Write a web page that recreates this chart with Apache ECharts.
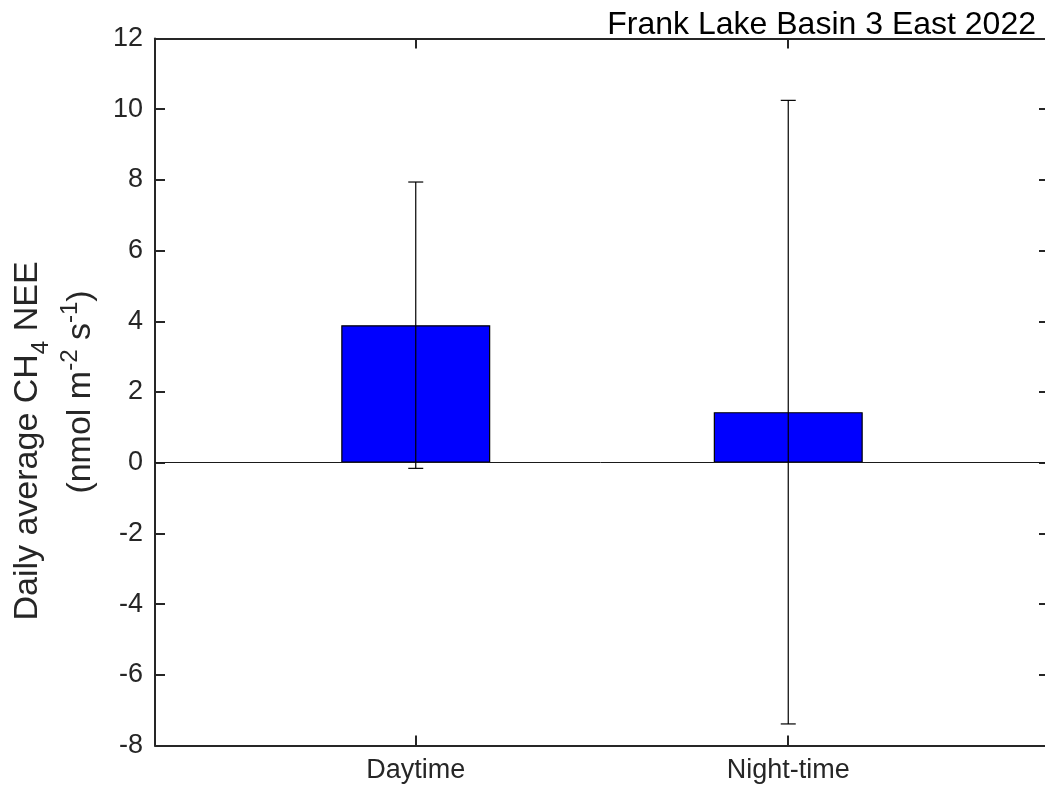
<!DOCTYPE html>
<html>
<head>
<meta charset="utf-8">
<title>Frank Lake Basin 3 East 2022</title>
<script src="https://cdn.jsdelivr.net/npm/echarts@6/dist/echarts.min.js"></script>
<style>
  html, body { margin: 0; padding: 0; background: #ffffff; }
  #chart { width: 1045px; height: 794px; }
</style>
</head>
<body>
<div id="chart"></div>
<script>
// Daily average CH4 NEE by period, with one-standard-deviation error bars
const categories = ['Daytime', 'Night-time'];
const categoryPositions = [1, 2];
const meanFlux = [3.89, 1.43];
const fluxError = [4.05, 8.82];
const yTicks = { min: -8, max: 12, step: 2 };

const FONT = "'Liberation Sans', Arial, Helvetica, sans-serif";
const AXIS_COLOR = '#262626';

const chart = echarts.init(document.getElementById('chart'), null, { renderer: 'canvas' });

const barData = categoryPositions.map((x, i) => [x, meanFlux[i]]);
const errData = categoryPositions.map((x, i) => [x, meanFlux[i] - fluxError[i], meanFlux[i] + fluxError[i]]);

const X_MIN = 0.3, X_MAX = 2.7;
const GRID_LEFT = 155, GRID_WIDTH = 894;

function axisBase(extra) {
  return Object.assign({
    axisLine: { show: true, onZero: false, lineStyle: { color: AXIS_COLOR, width: 2 } },
    splitLine: { show: false }
  }, extra);
}

const option = {
  backgroundColor: '#ffffff',
  animation: false,
  title: {
    text: 'Frank Lake Basin 3 East 2022',
    right: 4,
    top: 4,
    textStyle: { fontFamily: FONT, fontSize: 32, fontWeight: 'normal', color: '#000000' }
  },
  // the axes box runs slightly past the right edge of the canvas
  grid: { left: GRID_LEFT, width: GRID_WIDTH, top: 38.5, bottom: 48.5,
          containLabel: false, outerBoundsMode: 'none' },
  xAxis: [
    axisBase({
      type: 'value', position: 'bottom', min: X_MIN, max: X_MAX,
      axisTick: { show: true, inside: true, length: 10, customValues: categoryPositions,
                  lineStyle: { color: AXIS_COLOR, width: 2 } },
      axisLabel: { show: true, customValues: categoryPositions, margin: 12,
                   fontFamily: FONT, fontSize: 27, color: AXIS_COLOR,
                   formatter: v => categories[categoryPositions.indexOf(Math.round(v))] || '' }
    }),
    axisBase({
      type: 'value', position: 'top', min: X_MIN, max: X_MAX,
      axisTick: { show: true, inside: true, length: 10, customValues: categoryPositions,
                  lineStyle: { color: AXIS_COLOR, width: 2 } },
      axisLabel: { show: false }
    })
  ],
  yAxis: [
    axisBase({
      type: 'value', position: 'left', min: yTicks.min, max: yTicks.max, interval: yTicks.step,
      axisTick: { show: true, inside: true, length: 10, lineStyle: { color: AXIS_COLOR, width: 2 } },
      axisLabel: { show: true, margin: 12, fontFamily: FONT, fontSize: 27, color: AXIS_COLOR }
    }),
    axisBase({
      type: 'value', position: 'right', min: yTicks.min, max: yTicks.max, interval: yTicks.step,
      axisTick: { show: true, inside: true, length: 10, lineStyle: { color: AXIS_COLOR, width: 2 } },
      axisLabel: { show: false }
    })
  ],
  series: [
    {
      type: 'bar',
      xAxisIndex: 0, yAxisIndex: 0,
      data: barData,
      barWidth: 0.4 * GRID_WIDTH / (X_MAX - X_MIN),
      itemStyle: { color: '#0000ff', borderColor: '#000000', borderWidth: 1.2 },
      markLine: {
        silent: true, symbol: 'none', label: { show: false },
        lineStyle: { color: '#1a1a1a', width: 1, type: 'solid' },
        data: [{ yAxis: 0 }]
      },
      z: 2
    },
    {
      type: 'custom',
      xAxisIndex: 0, yAxisIndex: 0,
      data: errData,
      z: 5,
      renderItem: function (params, api) {
        const x = api.value(0);
        const lo = api.coord([x, api.value(1)]);
        const hi = api.coord([x, api.value(2)]);
        const cap = 7.5;
        const style = { stroke: '#000000', lineWidth: 1.2 };
        return {
          type: 'group',
          children: [
            { type: 'line', shape: { x1: lo[0], y1: lo[1], x2: hi[0], y2: hi[1] }, style: style },
            { type: 'line', shape: { x1: hi[0] - cap, y1: hi[1], x2: hi[0] + cap, y2: hi[1] }, style: style },
            { type: 'line', shape: { x1: lo[0] - cap, y1: lo[1], x2: lo[0] + cap, y2: lo[1] }, style: style }
          ]
        };
      }
    }
  ],
  graphic: [
    {
      type: 'text', x: 30, y: 441, rotation: Math.PI / 2,
      style: {
        text: '{n|Daily average CH}{sub|4}{n| NEE}',
        align: 'center', verticalAlign: 'middle', textAlign: 'center', textVerticalAlign: 'middle',
        fill: AXIS_COLOR, font: '34px ' + FONT,
        rich: {
          n: { fontFamily: FONT, fontSize: 34, lineHeight: 39, verticalAlign: 'top', color: AXIS_COLOR },
          sub: { fontFamily: FONT, fontSize: 24, lineHeight: 25, verticalAlign: 'top', padding: [19, 0, 0, 0], color: AXIS_COLOR }
        }
      }
    },
    {
      type: 'text', x: 78, y: 392, rotation: Math.PI / 2,
      style: {
        text: '{n|(nmol m}{sup|-2}{n| s}{sup|-1}{n|)}',
        align: 'center', verticalAlign: 'middle', textAlign: 'center', textVerticalAlign: 'middle',
        fill: AXIS_COLOR, font: '34px ' + FONT,
        rich: {
          n: { fontFamily: FONT, fontSize: 34, lineHeight: 39, verticalAlign: 'bottom', color: AXIS_COLOR },
          sup: { fontFamily: FONT, fontSize: 24, lineHeight: 25, verticalAlign: 'top', color: AXIS_COLOR }
        }
      }
    }
  ]
};

chart.setOption(option);
</script>
</body>
</html>
